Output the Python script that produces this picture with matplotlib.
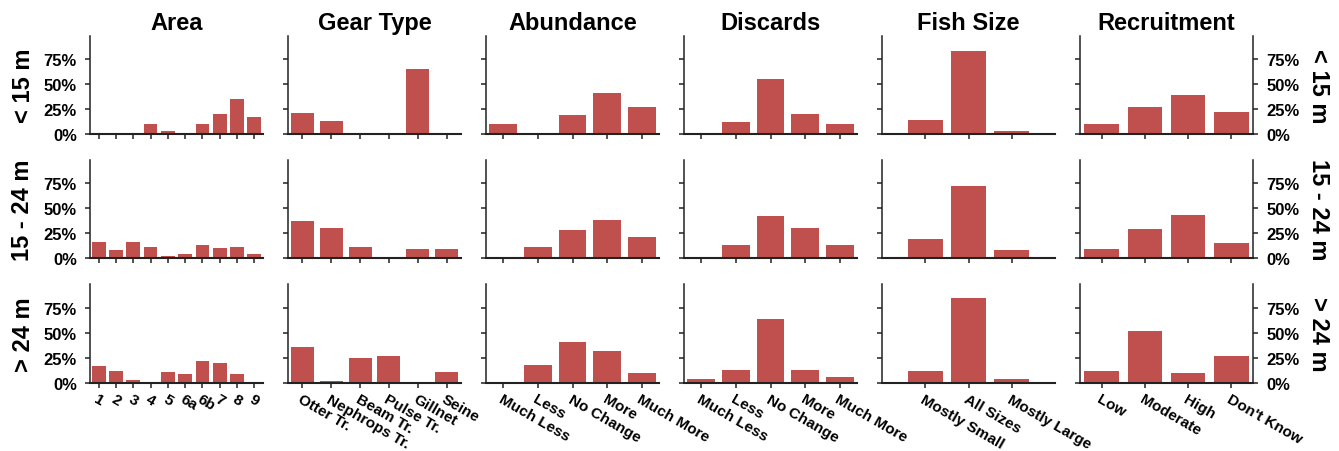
import matplotlib
matplotlib.use("Agg")
import matplotlib.pyplot as plt
from matplotlib.ticker import FuncFormatter

plt.rcParams['font.family'] = ['Liberation Sans', 'DejaVu Sans']
plt.rcParams['font.weight'] = 'bold'

panels = ["Area", "Gear Type", "Abundance", "Discards", "Fish Size", "Recruitment"]
rows = ["< 15 m", "15 - 24 m", "> 24 m"]

area_cats = ["1", "2", "3", "4", "5", "6a", "6b", "7", "8", "9"]
gear_cats = ["Otter Tr.", "Nephrops Tr.", "Beam Tr.", "Pulse Tr.", "Gillnet", "Seine"]
abund_cats = ["Much Less", "Less", "No Change", "More", "Much More"]
disc_cats = ["Much Less", "Less", "No Change", "More", "Much More"]
size_cats = ["Mostly Small", "All Sizes", "Mostly Large"]
recr_cats = ["Low", "Moderate", "High", "Don't Know"]

# percentages, one list per vessel-size row
area_vals = [
    [0, 0, 1.3, 10.3, 3.3, 1.3, 10.3, 20.3, 35.3, 17.3],
    [16.3, 8.3, 16.3, 11.3, 2.3, 4.3, 13.3, 10.3, 11.3, 4.3],
    [16.7, 11.7, 2.7, 0, 10.7, 8.7, 21.7, 19.7, 8.7, 0],
]
gear_vals = [
    [21.3, 13.3, 0, 0, 65.3, 0],
    [37.3, 30.3, 11.3, 1.3, 9.3, 9.3],
    [35.7, 1.7, 24.7, 26.7, 0, 10.7],
]
abund_vals = [
    [10.3, 1.3, 19.3, 41.3, 27.3],
    [0, 11.3, 28.3, 38.3, 21.3],
    [0, 17.7, 40.7, 31.7, 9.7],
]
disc_vals = [
    [1.3, 12.3, 55.3, 20.3, 10.3],
    [0, 13.3, 42.3, 30.3, 13.3],
    [3.7, 12.7, 63.7, 12.7, 5.7],
]
size_vals = [
    [14.3, 82.7, 3.3],
    [19.3, 72.3, 8.3],
    [11.7, 84.7, 3.7],
]
recr_vals = [
    [10.3, 27.3, 39.3, 22.3],
    [9.3, 29.3, 43.3, 15.3],
    [11.7, 51.7, 9.7, 26.7],
]

cats = [area_cats, gear_cats, abund_cats, disc_cats, size_cats, recr_cats]
vals = [area_vals, gear_vals, abund_vals, disc_vals, size_vals, recr_vals]

W, H = 1339, 452
fig = plt.figure(figsize=(W / 100, H / 100), dpi=100)

bar_color = "#C0504D"
spine_color = "#222222"
col_left = [90, 288, 486, 684, 882, 1080]
ax_w = 173
row_bottom = [135.3, 259.3, 383.7]
ax_h = 98.5
ytop = 98.3

pct = FuncFormatter(lambda v, p: f"{int(round(v))}%")

for c in range(6):
    for r in range(3):
        ax = fig.add_axes([col_left[c] / W, 1 - row_bottom[r] / H, ax_w / W, ax_h / H])
        labels = cats[c]
        n = len(labels)
        xs = list(range(n))
        ax.bar(xs, vals[c][r], width=0.8, color=bar_color)
        if c == 4:
            ax.set_xlim(-1, n)
        else:
            ax.set_xlim(-0.5, n - 0.5)
        ax.set_ylim(0, ytop)
        ax.set_yticks([0, 25, 50, 75])
        ax.yaxis.set_major_formatter(pct)
        ax.set_xticks(xs)
        ax.spines["top"].set_visible(False)
        ax.spines["right"].set_visible(c == 5)
        for s in ["left", "right"]:
            ax.spines[s].set_linewidth(1.1)
            ax.spines[s].set_color(spine_color)
        ax.spines["bottom"].set_linewidth(1.5)
        ax.spines["bottom"].set_color(spine_color)
        ax.tick_params(axis="x", direction="out", length=3.5, width=1.1,
                       color=spine_color, labelsize=11, pad=3)
        ax.tick_params(axis="y", direction="out", length=3.5, width=1.1,
                       color=spine_color, labelsize=12, pad=6)
        ax.tick_params(axis="y", labelleft=(c == 0))
        if c == 5:
            ax.tick_params(axis="y", right=True, labelright=True)
        for lab in ax.get_yticklabels():
            lab.set_fontweight("bold")
        if r == 2:
            ax.set_xticklabels(labels, rotation=-30, ha="left", va="top",
                               rotation_mode="anchor", fontsize=11, fontweight="bold")
        else:
            ax.set_xticklabels([])
        if r == 0:
            ax.set_title(panels[c], fontsize=17, fontweight="bold", pad=5)
        if c == 0:
            fig.text(23 / W, 1 - (row_bottom[r] - ax_h / 2) / H, rows[r], rotation=90,
                     ha="center", va="center", fontsize=17, fontweight="bold")
        if c == 5:
            fig.text(1318 / W, 1 - (row_bottom[r] - ax_h / 2) / H, rows[r], rotation=-90,
                     ha="center", va="center", fontsize=17, fontweight="bold")

fig.savefig("out.png", dpi=100)
